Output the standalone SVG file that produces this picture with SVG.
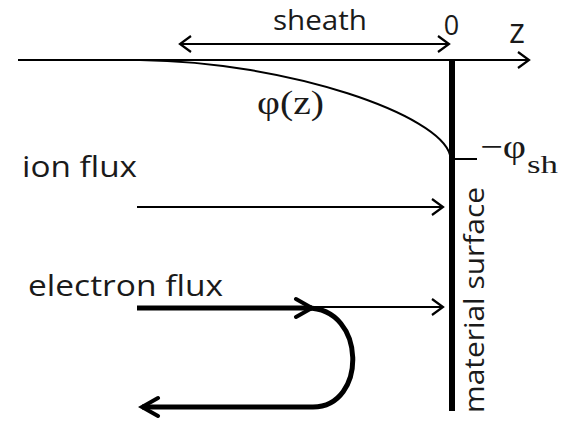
<svg xmlns="http://www.w3.org/2000/svg" width="564" height="421" viewBox="0 0 564 421">
<defs>
<style>
.ln{stroke:#000;fill:none;stroke-width:2}
.thick{stroke:#000;fill:none;stroke-width:5}
.sans{font-family:"Open Sans","Liberation Sans",sans-serif;fill:#1a1a1a}
.serif{font-family:"Liberation Serif","DejaVu Serif",serif;fill:#1a1a1a}
</style>
<marker id="ah" markerWidth="16" markerHeight="20" refX="13" refY="10" orient="auto-start-reverse" markerUnits="userSpaceOnUse">
<path d="M2 2 L13 10 L2 18" fill="none" stroke="#000" stroke-width="2.2"/>
</marker>
<marker id="ahb" markerWidth="24" markerHeight="24" refX="20" refY="12" orient="auto-start-reverse" markerUnits="userSpaceOnUse">
<path d="M4 3 L20 12 L4 21" fill="none" stroke="#000" stroke-width="4" stroke-linecap="round"/>
</marker>
</defs>
<rect width="564" height="421" fill="#fff"/>
<g id="connectors">
<line id="z-axis" class="ln" x1="18" y1="60" x2="529" y2="60" marker-end="url(#ah)"/>
<line id="sheath-arrow" class="ln" x1="180" y1="44" x2="449" y2="44" marker-start="url(#ah)" marker-end="url(#ah)"/>
<path id="phi-curve" class="ln" d="M140 60 C290 62 440 115 450 155"/>
<line id="tick" class="ln" x1="452" y1="159" x2="477" y2="159"/>
<line id="ion-arrow" class="ln" x1="137" y1="207" x2="443" y2="207" marker-end="url(#ah)"/>
<line id="electron-thin" class="ln" x1="312" y1="307" x2="443" y2="307" marker-end="url(#ah)"/>
<line id="electron-in" class="thick" x1="137" y1="308" x2="312" y2="308" marker-end="url(#ahb)"/>
<path id="electron-turn" class="thick" d="M307 308 C367 308 367 407 313 407 L142 407" marker-end="url(#ahb)"/>
</g>
<g id="surface">
<line x1="452" y1="60" x2="452" y2="411" stroke="#000" stroke-width="6"/>
<text class="sans" font-size="28" transform="translate(484,300) rotate(-90)" text-anchor="middle" textLength="226" lengthAdjust="spacingAndGlyphs">material surface</text>
</g>
<g id="labels">
<text class="sans" font-size="27" x="273" y="30" textLength="94" lengthAdjust="spacingAndGlyphs">sheath</text>
<text class="sans" font-size="27" x="451.5" y="35" text-anchor="middle">0</text>
<text class="sans" font-size="34" x="517" y="43" text-anchor="middle">z</text>
<text class="serif" font-size="34" x="257" y="114" textLength="67" lengthAdjust="spacingAndGlyphs">φ(z)</text>
<text class="serif" font-size="34" x="480" y="158" textLength="46" lengthAdjust="spacingAndGlyphs">−φ</text>
<text class="serif" font-size="26" x="527" y="173" textLength="31" lengthAdjust="spacingAndGlyphs">sh</text>
<text class="sans" font-size="30" x="22" y="177" textLength="115" lengthAdjust="spacingAndGlyphs">ion flux</text>
<text class="sans" font-size="30" x="28" y="296" textLength="195" lengthAdjust="spacingAndGlyphs">electron flux</text>
</g>
</svg>
